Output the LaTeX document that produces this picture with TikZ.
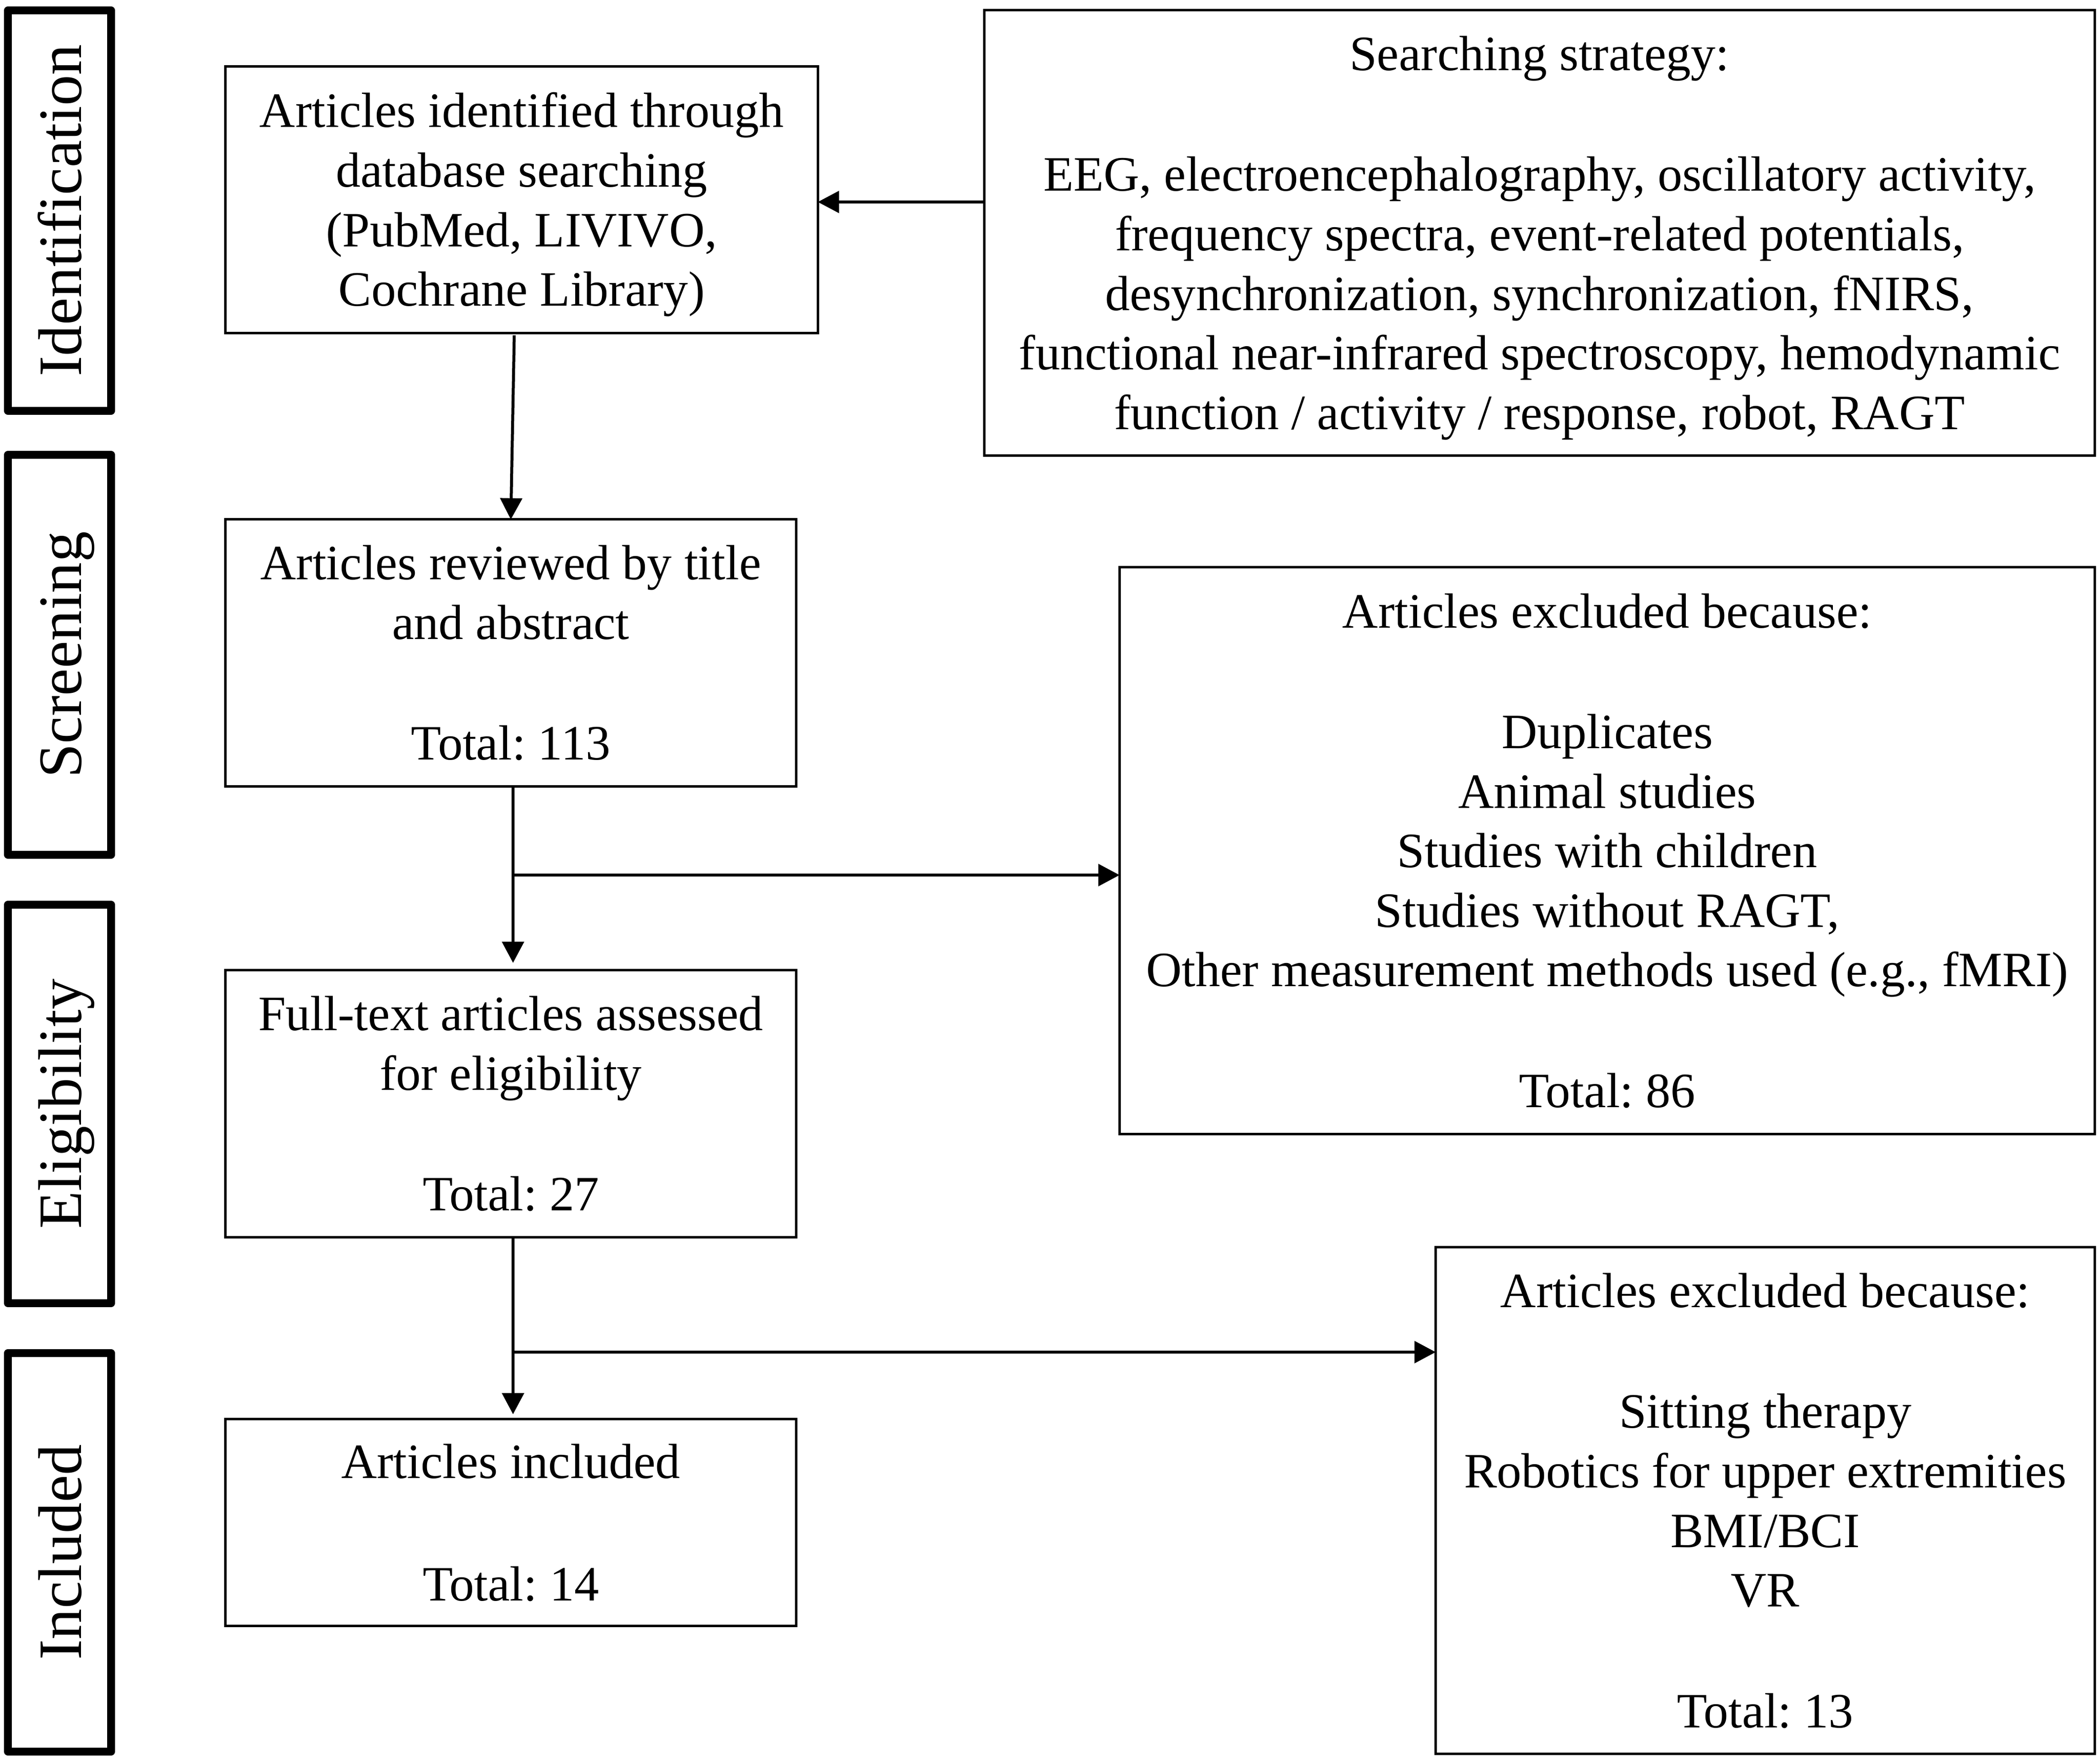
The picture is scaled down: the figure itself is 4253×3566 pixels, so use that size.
\documentclass[tikz,border=0pt]{standalone}
\usepackage{fontspec}
\setmainfont{Liberation Serif}
\usetikzlibrary{arrows.meta}
\newcommand\mystrut{\rule[-0.26em]{0pt}{1.205em}}
\frenchspacing
\begin{document}
\begin{tikzpicture}[x=0.01cm,y=-0.01cm,
  box/.style={draw, line width=0.05cm, rectangle, inner sep=0pt, outer sep=0pt, align=center,
    font=\frenchspacing\fontsize{28.45pt}{34.28pt}\selectfont},
  phase/.style={draw, line width=0.16cm, line join=round, rectangle, rotate=90, inner sep=0pt,
    outer sep=0pt, minimum height=2.08cm, font=\fontsize{35.5pt}{40pt}\selectfont,
    text height=24.9pt, text depth=0pt},
  conn/.style={line width=0.06cm, -{Triangle[length=0.43cm,width=0.44cm]}}]
\useasboundingbox (0,0) rectangle (4253,3566);
\fill[white] (0,0) rectangle (4253,3566);

% phase labels
\node[phase, minimum width=8.11cm] (pid) at (120.5,426.5) {Identification};
\node[phase, minimum width=8.10cm] (psc) at (120.5,1326) {Screening};
\node[phase, minimum width=8.07cm] (pel) at (120.5,2235.5) {Eligibility};
\node[phase, minimum width=8.07cm] (pin) at (120.5,3143.5) {Included};

% boxes
\node[box, minimum width=11.99cm, minimum height=5.39cm] (ident) at (1056.5,404.5)
  {\mystrut Articles identified through\\database searching\\(PubMed, LIVIVO,\\Cochrane Library)\mystrut};
\node[box, minimum width=22.48cm, minimum height=9.01cm] (search) at (3118,471.5)
  {\mystrut Searching strategy:\\\mystrut\\EEG, electroencephalography, oscillatory activity,\\frequency spectra, event-related potentials,\\desynchronization, synchronization, fNIRS,\\functional near-infrared spectroscopy, hemodynamic\\function / activity / response, robot, RAGT\mystrut};
\node[box, minimum width=11.55cm, minimum height=5.40cm] (rev) at (1034.5,1322)
  {\mystrut Articles reviewed by title\\and abstract\\\mystrut\\Total: 113\mystrut};
\node[box, minimum width=19.74cm, minimum height=11.47cm] (excla) at (3255,1722.5)
  {\mystrut Articles excluded because:\\\mystrut\\Duplicates\\Animal studies\\Studies with children\\Studies without RAGT,\\Other measurement methods used (e.g., fMRI)\\\mystrut\\Total: 86\mystrut};
\node[box, minimum width=11.55cm, minimum height=5.40cm] (full) at (1034.5,2235)
  {\mystrut Full-text articles assessed\\for eligibility\\\mystrut\\Total: 27\mystrut};
\node[box, minimum width=13.34cm, minimum height=10.25cm] (exclb) at (3575,3038.5)
  {\mystrut Articles excluded because:\\\mystrut\\Sitting therapy\\Robotics for upper extremities\\BMI/BCI\\VR\\\mystrut\\Total: 13\mystrut};
\node[box, minimum width=11.55cm, minimum height=4.18cm] (incl) at (1034.5,3083)
  {\mystrut Articles included\\\mystrut\\Total: 14\mystrut};

% connectors
\coordinate (a1) at (0,409);
\coordinate (b1) at (1039,1772);
\coordinate (b2) at (1039,2738);
\draw[conn] (search.west |- a1) -- (ident.east |- a1);
\draw[conn] ([xshift=-0.15cm,yshift=-0.05cm]ident.south) -- (rev.north);
\draw[conn, shorten >=0.15cm] (rev.south -| b1) -- (full.north -| b1);
\draw[conn] (b1) -- (b1 -| excla.west);
\draw[conn, shorten >=0.1cm] (full.south -| b2) -- (incl.north -| b2);
\draw[conn] (b2) -- (b2 -| exclb.west);
\end{tikzpicture}
\end{document}
